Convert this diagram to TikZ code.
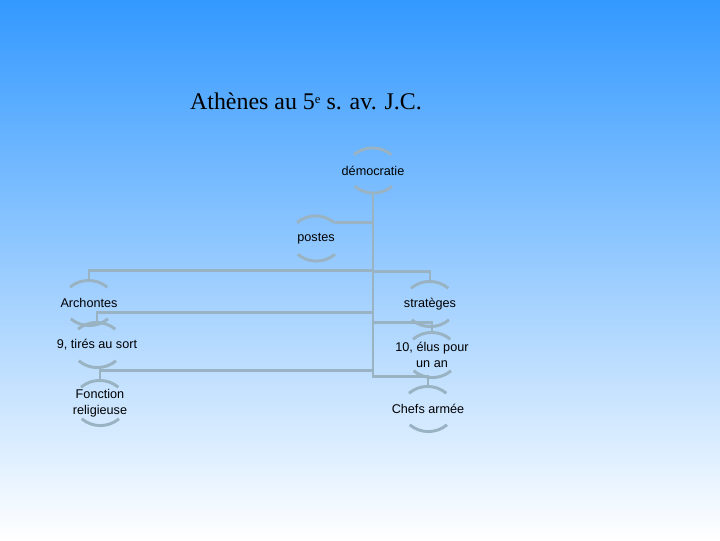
\documentclass[tikz,border=0pt]{standalone}
\usepackage{fontspec}
\setmainfont{Liberation Sans}
\newfontfamily\titlefont{Liberation Serif}
\usetikzlibrary{calc}
\definecolor{skyblue}{HTML}{3399FF}
\definecolor{linkgrey}{HTML}{9AB3C3}
\tikzset{
  link/.style={draw=linkgrey, line width=2.1pt},
  arcline/.style={draw=linkgrey, line width=2.1pt},
  post/.style={align=center, minimum height=1.125cm, inner sep=1pt,
               font=\fontsize{9}{11}\selectfont},
}
% a post: text between two arcs
\newcommand{\arcs}[1]{%
  \draw[arcline] ($(#1.north)+(-19,-7)$) arc[start angle=130, end angle=50, radius=29];
  \draw[arcline] ($(#1.south)+(19,7)$) arc[start angle=-50, end angle=-130, radius=29];}

\begin{document}
\begin{tikzpicture}[x=0.025cm, y=0.025cm]
  \shade[top color=skyblue, bottom color=white] (0,0) rectangle (720,540);
  \useasboundingbox (0,0) rectangle (720,540);

  \node[font=\titlefont\fontsize{17}{20}\selectfont] (title) at (306,439)
    {Athènes au 5\raisebox{0.55ex}{\fontsize{9}{9}\selectfont e} s. av. J.C.};

  \node[post] (dem)  at (373,369.5) {démocratie};
  \node[post] (pos)  at (316,301.5) {postes};
  \node[post] (arch) at (89,237)    {Archontes};
  \node[post] (tir)  at (97,195)    {9, tirés au sort};
  \node[post] (fon)  at (100,137)   {Fonction\\religieuse};
  \node[post] (str)  at (430,236)   {stratèges};
  \node[post] (elu)  at (432,185)   {10, élus pour\\un an};
  \node[post] (che)  at (428,131)   {Chefs armée};

  % connectors
  \draw[link] (dem.south) |- ($(pos.north)+(19,-7)$);
  \foreach \n in {arch,str,tir,elu,fon,che}
    \draw[link] (dem.south) |- ($(\n.north)+(0,10)$) -- (\n.north);

  \foreach \n in {dem,pos,arch,tir,fon,str,elu,che}{
    \arcs{\n}
  }
\end{tikzpicture}
\end{document}
